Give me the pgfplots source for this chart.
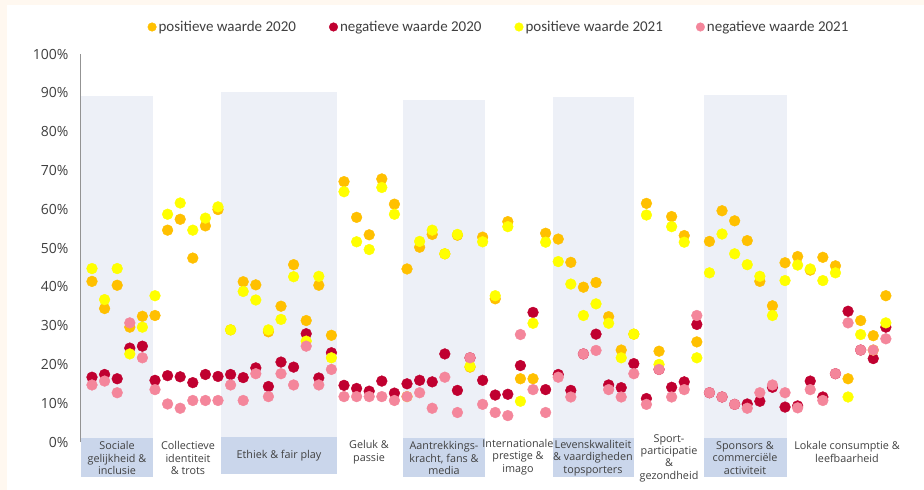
\documentclass[border=0pt]{standalone}
\usepackage{pgfplots}
\pgfplotsset{compat=1.18}
\usepackage{pgfplotstable}
\usepackage{fontspec}
\setmainfont{Open Sans}
\newfontfamily\legfont{Carlito}
\definecolor{cO}{HTML}{FFC000}
\definecolor{cR}{HTML}{C00030}
\definecolor{cY}{HTML}{FFFF00}
\definecolor{cP}{HTML}{F4869B}
\definecolor{bandL}{HTML}{EDF0F7}
\definecolor{bandD}{HTML}{CAD6EB}
\definecolor{txt}{HTML}{404040}
\definecolor{framec}{HTML}{FFF8F0}

\pgfplotstableread{
i O R Y P
0 41.4 16.7 44.7 14.7
1 34.4 17.4 36.7 15.7
2 40.4 16.3 44.7 12.7
3 29.6 24.2 22.7 30.7
4 32.4 24.7 29.6 21.7
5 32.6 15.9 37.7 13.5
6 54.6 17.1 58.7 9.8
7 57.4 16.8 61.6 8.7
8 47.4 15.3 54.6 10.7
9 55.7 17.4 57.7 10.7
10 59.9 16.9 60.6 10.7
11 28.9 17.4 28.9 14.7
12 41.3 16.6 38.8 10.7
13 40.5 19.1 36.6 17.6
14 28.4 14.3 28.9 11.7
15 35.0 20.6 31.6 17.6
16 45.7 19.3 42.6 14.7
17 31.3 27.9 26.0 24.7
18 40.4 16.5 42.7 14.7
19 27.5 23.0 21.7 18.7
20 67.1 14.6 64.5 11.7
21 57.9 13.8 51.6 11.7
22 53.4 13.1 49.6 11.7
23 67.8 15.7 65.6 11.7
24 61.3 12.6 58.7 10.7
25 44.6 15.0 11.7 11.7
26 50.2 15.9 51.7 12.7
27 53.5 15.5 54.6 8.7
28 48.5 22.7 48.5 16.7
29 53.3 13.3 53.5 7.6
30 19.3 21.7 19.5 21.7
31 52.8 15.9 51.6 9.7
32 36.9 12.1 37.7 7.6
33 56.8 12.3 55.5 6.8
34 16.3 19.7 10.5 27.7
35 16.3 33.4 30.6 13.5
36 53.8 13.5 51.5 7.6
37 52.3 17.4 46.5 16.7
38 46.3 13.3 40.7 11.6
39 39.9 22.7 32.6 22.7
40 41.1 27.8 35.6 23.6
41 32.3 14.7 30.6 13.5
42 23.7 14.0 21.7 11.6
43 27.8 20.2 27.8 17.6
44 61.5 11.2 58.5 9.7
45 23.4 18.7 20.0 18.7
46 58.1 14.1 55.5 11.6
47 53.2 15.5 51.5 13.5
48 25.8 30.3 21.7 32.6
49 51.7 12.7 43.6 12.7
50 59.6 11.6 53.6 11.6
51 57.0 9.7 48.5 9.7
52 51.9 9.8 45.7 8.7
53 41.4 10.5 42.7 12.7
54 35.1 14.1 32.6 14.7
55 46.2 9.0 41.6 12.7
56 47.8 9.3 45.6 8.8
57 44.3 15.7 44.6 13.5
58 47.6 11.6 41.6 10.7
59 45.4 17.6 43.6 17.6
60 16.3 33.7 11.6 30.7
61 31.3 23.7 27.7 23.7
62 27.4 21.5 23.7 23.7
63 37.7 29.6 30.7 26.6
}\data

\pgfplotsset{
  pt/.style={only marks, mark=*, color=#1, mark size=5.4pt, mark options={draw=none},
    legend image code/.code={\fill[#1] (0pt,0pt) circle (4.3pt);}},
}

\begin{document}
\begin{tikzpicture}
\fill[framec] (-80pt,-48pt) rectangle (844pt,442pt);
\fill[white] (-73pt,-48pt) rectangle (844pt,437pt);
\begin{axis}[
  scale only axis, width=824pt, height=388pt,
  at={(0pt,0pt)}, anchor=south west,
  xmin=-0.952, xmax=64.44, ymin=0, ymax=100,
  clip=false,
  axis x line=none, axis y line*=left,
  axis line style={draw=gray!85, line width=0.8pt, -},
  ytick={0,10,...,100},
  yticklabel={\pgfmathprintnumber{\tick}\%},
  /pgf/number format/assume math mode=true,
  major tick length=0pt,
  yticklabel style={font=\fontsize{14}{14}\selectfont, text=txt, xshift=-8pt},
  legend columns=4,
  legend style={at={(0.5085,1.0696)}, anchor=center, draw=none, fill=none,
    font=\legfont\fontsize{15}{15}\selectfont, text=txt,
    /tikz/every even column/.append style={column sep=31pt}},
  legend cell align=left,
]
\fill[bandL] (axis cs:-0.873,1) rectangle (axis cs:4.841,89.2);
\fill[bandL] (axis cs:10.238,1) rectangle (axis cs:19.444,90.2);
\fill[bandL] (axis cs:24.683,1) rectangle (axis cs:31.19,88.1);
\fill[bandL] (axis cs:36.587,1) rectangle (axis cs:43.016,88.8);
\fill[bandL] (axis cs:48.571,1) rectangle (axis cs:55.159,89.4);
\fill[bandD] (axis cs:-0.873,1) rectangle (axis cs:4.841,-9);
\fill[bandD] (axis cs:10.238,1.3) rectangle (axis cs:19.444,-8.3);
\fill[bandD] (axis cs:24.683,1) rectangle (axis cs:31.19,-9);
\fill[bandD] (axis cs:36.587,1) rectangle (axis cs:43.016,-9);
\fill[bandD] (axis cs:48.571,1) rectangle (axis cs:55.159,-9);
\addplot[pt=cO] table[x=i,y=O]{\data};
\addlegendentry{positieve waarde 2020}
\addplot[pt=cR] table[x=i,y=R]{\data};
\addlegendentry{negatieve waarde 2020}
\addplot[pt=cY] table[x=i,y=Y]{\data};
\addlegendentry{positieve waarde 2021}
\addplot[pt=cP] table[x=i,y=P]{\data};
\addlegendentry{negatieve waarde 2021}
\end{axis}
\tikzset{lab/.style={align=center, font=\fontsize{10.8}{12.4}\selectfont, text=txt, inner sep=0pt}}
\node[lab] at (37pt,-16pt) {Sociale\\gelijkheid \&\\inclusie};
\node[lab] at (108pt,-16pt) {Collectieve\\identiteit\\\& trots};
\node[lab] at (199pt,-14pt) {Ethiek \& fair play};
\node[lab] at (289pt,-10pt) {Geluk \&\\passie};
\node[lab] at (364pt,-16pt) {Aantrekkings-\\kracht, fans \&\\media};
\node[lab] at (438pt,-15pt) {Internationale\\prestige \&\\imago};
\node[lab] at (513pt,-16pt) {Levenskwaliteit\\\& vaardigheden\\topsporters};
\node[lab] at (589pt,-16pt) {Sport-\\participatie\\\&\\gezondheid};
\node[lab] at (665pt,-16pt) {Sponsors \&\\commerciële\\activiteit};
\node[lab] at (767pt,-10pt) {Lokale consumptie \&\\leefbaarheid};
\end{tikzpicture}
\end{document}
